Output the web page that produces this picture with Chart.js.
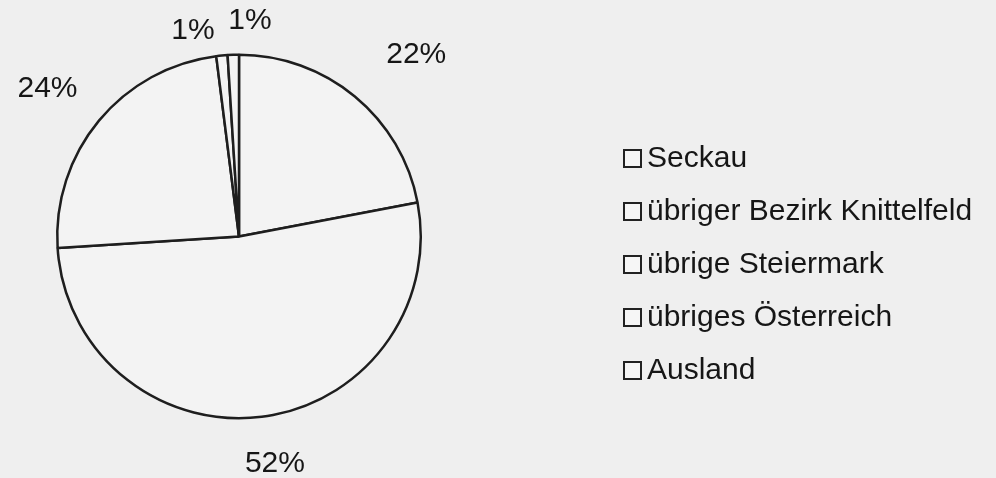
<!DOCTYPE html>
<html>
<head>
<meta charset="utf-8">
<style>
  html, body { margin: 0; padding: 0; background: #efefef; }
  #wrap { width: 996px; height: 478px; }
</style>
<script src="https://cdn.jsdelivr.net/npm/chart.js@4/dist/chart.umd.min.js"></script>
</head>
<body>
<div id="wrap"><canvas id="herkunftChart" width="996" height="478"></canvas></div>
<script>
// Herkunft - Anteile in Prozent
const kategorien = ['Seckau', 'übriger Bezirk Knittelfeld', 'übrige Steiermark', 'übriges Österreich', 'Ausland'];
const anteile = [22, 52, 24, 1, 1];
const beschriftungen = ['22%', '52%', '24%', '1%', '1%'];

const schrift = '30px "Liberation Sans", Arial, sans-serif';

// Prozentwerte außerhalb der Tortenstücke
const prozentLabels = {
    id: 'prozentLabels',
    afterDatasetsDraw(chart, args, opts) {
        const ctx = chart.ctx;
        const meta = chart.getDatasetMeta(0);
        ctx.save();
        ctx.font = schrift;
        ctx.fillStyle = '#161616';
        ctx.textAlign = 'center';
        ctx.textBaseline = 'middle';
        meta.data.forEach(function(arc, i) {
            const off = opts.offsets[i];
            const mitte = (arc.startAngle + arc.endAngle) / 2 + off.a * Math.PI / 180;
            const r = arc.outerRadius + off.r;
            ctx.fillText(beschriftungen[i], arc.x + Math.cos(mitte) * r, arc.y + Math.sin(mitte) * r);
        });
        ctx.restore();
    }
};

// Legende wie im Original: kleine leere Kästchen
const kastenLegende = {
    id: 'kastenLegende',
    afterDraw(chart, args, opts) {
        const ctx = chart.ctx;
        ctx.save();
        ctx.font = schrift;
        ctx.textBaseline = 'middle';
        chart.data.labels.forEach(function(txt, i) {
            const y = opts.top + i * opts.step;
            ctx.fillStyle = '#f6f6f6';
            ctx.fillRect(opts.left, y - 8, 17, 17);
            ctx.strokeStyle = '#222';
            ctx.lineWidth = 2;
            ctx.strokeRect(opts.left, y - 8, 17, 17);
            ctx.fillStyle = '#161616';
            ctx.fillText(txt, opts.left + 23, y + 1);
        });
        ctx.restore();
    }
};

const ctx = document.getElementById('herkunftChart').getContext('2d');
const herkunftChart = new Chart(ctx, {
    type: 'pie',
    data: {
        labels: kategorien,
        datasets: [{
            data: anteile,
            backgroundColor: '#f3f3f3',
            borderColor: '#1e1e1e',
            borderWidth: 2.5
        }]
    },
    options: {
        responsive: false,
        animation: false,
        layout: {
            padding: { left: 56, right: 574, top: 53, bottom: 58 }
        },
        plugins: {
            legend: { display: false },
            tooltip: { enabled: false },
            prozentLabels: {
                offsets: [
                    { r: 72, a: 4.7 },
                    { r: 48, a: -1.8 },
                    { r: 60, a: -2 },
                    { r: 29, a: -7.2 },
                    { r: 34, a: 4.7 }
                ]
            },
            kastenLegende: { left: 624, top: 158, step: 53 }
        }
    },
    plugins: [prozentLabels, kastenLegende]
});
</script>
</body>
</html>
